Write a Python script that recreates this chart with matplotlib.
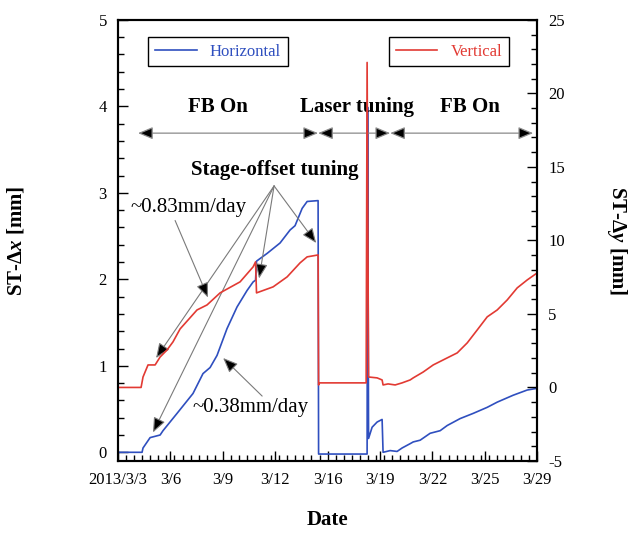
import numpy as np
import matplotlib
matplotlib.use("Agg")
import matplotlib.pyplot as plt
from matplotlib.ticker import FixedLocator, MultipleLocator

plt.rcParams["font.family"] = ["Liberation Serif", "DejaVu Serif"]
plt.rcParams["mathtext.fontset"] = "custom"
plt.rcParams["mathtext.rm"] = "Liberation Serif:bold"
plt.rcParams["mathtext.it"] = "Liberation Serif:bold:italic"
plt.rcParams["mathtext.bf"] = "Liberation Serif:bold"
plt.rcParams["axes.unicode_minus"] = False

# --- data (x = day of March 2013) -----------------------------------------
h_day = [3.00, 4.49, 4.55, 4.99, 5.61, 5.79, 6.66, 7.65, 8.27, 8.71, 9.14, 9.76,
         10.38, 11.00, 11.38, 11.53, 11.59, 12.25, 13.05, 13.67, 13.98, 14.42,
         14.73, 15.41, 15.44, 18.45, 18.48, 18.54, 18.76, 19.07, 19.38, 19.44,
         19.88, 20.31, 20.62, 21.12, 21.31, 21.74, 22.36, 22.98, 23.42, 24.22,
         25.03, 25.90, 26.52, 27.51, 28.38, 29.00]
h_dx = [0.00, 0.00, 0.05, 0.17, 0.20, 0.25, 0.45, 0.68, 0.91, 0.98, 1.12, 1.43,
        1.68, 1.87, 1.97, 1.99, 2.21, 2.30, 2.42, 2.57, 2.62, 2.82,
        2.90, 2.91, -0.02, -0.02, 3.99, 0.16, 0.29, 0.35, 0.38, 0.00,
        0.02, 0.01, 0.05, 0.10, 0.12, 0.14, 0.22, 0.25, 0.31, 0.39,
        0.45, 0.52, 0.58, 0.66, 0.72, 0.74]

v_day = [3.00, 4.43, 4.55, 4.86, 5.30, 5.61, 6.04, 6.41, 6.85, 7.90, 8.52, 9.33,
         10.57, 11.38, 11.53, 11.59, 12.62, 13.49, 14.29, 14.73, 15.41, 15.44,
         15.50, 18.39, 18.45, 18.54, 19.07, 19.38, 19.44, 19.75, 20.19, 20.62,
         21.12, 21.31, 21.93, 22.55, 23.42, 24.04, 24.66, 25.28, 25.90, 26.52,
         27.14, 27.76, 28.38, 29.00]
v_dy = [0.00, 0.00, 0.71, 1.53, 1.53, 2.07, 2.55, 3.10, 3.98, 5.27, 5.61, 6.43,
        7.18, 8.20, 8.54, 6.43, 6.84, 7.52, 8.47, 8.88, 9.01, 0.17,
        0.31, 0.31, 22.1, 0.71, 0.65, 0.51, 0.17, 0.24, 0.17, 0.31,
        0.51, 0.65, 1.05, 1.53, 2.01, 2.35, 3.03, 3.91, 4.80, 5.27,
        5.95, 6.77, 7.31, 7.79]

tick_days = np.linspace(3, 29, 9)
tick_labels = ["2013/3/3", "3/6", "3/9", "3/12", "3/16", "3/19", "3/22", "3/25", "3/29"]

BLUE = "#2f4fbf"
RED = "#e23a33"

fig = plt.figure(figsize=(6.38, 5.36), dpi=100)
ax = fig.add_axes([0.185, 0.140, 0.657, 0.823])
ax2 = ax.twinx()

ln_h, = ax.plot(h_day, h_dx, color=BLUE, lw=1.2, label="Horizontal")
ln_v, = ax2.plot(v_day, v_dy, color=RED, lw=1.2, label="Vertical")

ax.set_xlim(3, 29)
ax.set_ylim(-0.1, 5)
ax2.set_ylim(-5, 25)

ax.xaxis.set_major_locator(FixedLocator(tick_days))
ax.set_xticklabels(tick_labels)
ax.xaxis.set_minor_locator(MultipleLocator(0.5))
ax.yaxis.set_major_locator(MultipleLocator(1))
ax.yaxis.set_minor_locator(MultipleLocator(0.2))
ax2.yaxis.set_major_locator(MultipleLocator(5))
ax2.yaxis.set_minor_locator(MultipleLocator(1))

for a in (ax, ax2):
    a.tick_params(which="both", direction="in", labelsize=12, width=1.0)
    a.tick_params(which="major", length=7)
    a.tick_params(which="minor", length=4)
    for s in a.spines.values():
        s.set_linewidth(1.5)
ax.tick_params(axis="x", pad=8)
ax.tick_params(axis="y", pad=8)
ax2.tick_params(axis="y", pad=8)

ax.set_xlabel("Date", fontsize=15, fontweight="bold", labelpad=16)
ax.set_ylabel("ST-Δ$x$ [mm]", fontsize=15, fontweight="bold", labelpad=52)
ax2.set_ylabel("ST-Δ$y$ [mm]", fontsize=15, fontweight="bold", rotation=270, labelpad=46)

# legends in two separate boxes
leg1 = ax.legend(handles=[ln_h], loc="upper left", bbox_to_anchor=(0.072, 0.961),
                 borderaxespad=0, fancybox=False, edgecolor="k", framealpha=1,
                 fontsize=12, handlelength=2.5, labelcolor=BLUE)
leg1.get_frame().set_linewidth(1.0)
leg2 = ax2.legend(handles=[ln_v], loc="upper right", bbox_to_anchor=(0.933, 0.961),
                  borderaxespad=0, fancybox=False, edgecolor="k", framealpha=1,
                  fontsize=12, handlelength=2.5, labelcolor=RED)
leg2.get_frame().set_linewidth(1.0)

# period labels with double arrows
bold = dict(fontsize=15, fontweight="bold", ha="center", va="center")
ax.text(9.21, 3.99, "FB On", **bold)
ax.text(17.83, 3.99, "Laser tuning", **bold)
ax.text(24.84, 3.99, "FB On", **bold)

dbl = dict(arrowstyle="<|-|>,head_length=0.6,head_width=0.25", fc="k", ec="#8a8a8a",
           lw=0.9, mutation_scale=15, shrinkA=0, shrinkB=0)
for x0, x1 in [(4.24, 15.41), (15.41, 19.88), (19.88, 28.75)]:
    ax.annotate("", xy=(x1, 3.69), xytext=(x0, 3.69), arrowprops=dbl)

one = dict(arrowstyle="-|>,head_length=0.6,head_width=0.25", fc="k", ec="#7a7a7a",
           lw=0.8, mutation_scale=15, shrinkA=0, shrinkB=0)

ax.text(12.74, 3.26, "Stage-offset tuning", **bold)
for tx, ty in [(5.36, 1.09), (5.17, 0.23), (11.75, 2.01), (15.29, 2.42)]:
    ax.annotate("", xy=(tx, ty), xytext=(12.68, 3.08), arrowprops=one)

ax.text(7.34, 2.83, "~0.83mm/day", fontsize=15, ha="center", va="center")
ax.annotate("", xy=(8.58, 1.79), xytext=(6.54, 2.68), arrowprops=one)

ax.text(11.19, 0.52, "~0.38mm/day", fontsize=15, ha="center", va="center")
ax.annotate("", xy=(9.52, 1.09), xytext=(11.94, 0.65), arrowprops=one)

fig.savefig("out.png", dpi=100)
